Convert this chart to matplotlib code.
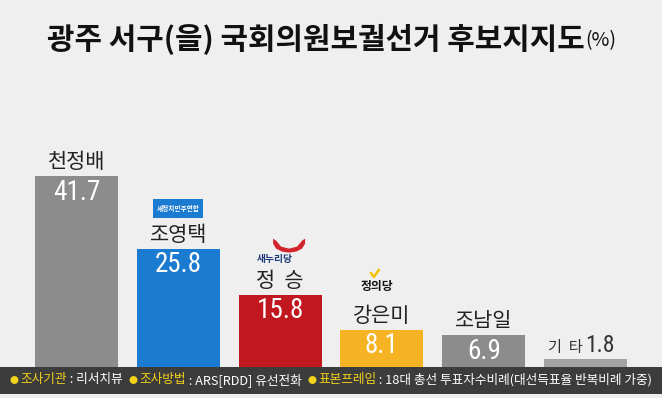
import numpy as np
import matplotlib
matplotlib.use("Agg")
import matplotlib.pyplot as plt
from matplotlib import font_manager
from matplotlib.patches import Rectangle, Polygon

# données
names = ["천정배", "조영택", "정  승", "강은미", "조남일", "기  타"]
values = [41.7, 25.8, 15.8, 8.1, 6.9, 1.8]
colors = ["#8c8c8c", "#1b7bd0", "#c1171f", "#f6b324", "#8c8c8c", "#a3a3a3"]
title = "광주 서구(을) 국회의원보궐선거 후보지지도"
title_unit = "(%)"
footer_labels = ["조사기관", "조사방법", "표본프레임"]
footer_values = ["리서치뷰", "ARS[RDD] 유선전화", "18대 총선 투표자수비례(대선득표율 반복비례 가중)"]

KR = "Noto Sans CJK KR"
installed = {f.name for f in font_manager.fontManager.ttflist}
NUM = KR
for cand in ["Liberation Sans Narrow", "DejaVu Sans Condensed", "Roboto Condensed"]:
    if cand in installed:
        NUM = cand
        break
plt.rcParams['font.family'] = [KR, 'DejaVu Sans']

bg = "#efefef"
W, H = 662, 398
fig = plt.figure(figsize=(W / 100, H / 100), dpi=100, facecolor=bg)

foot_top = 367
ax = fig.add_axes([0, (H - foot_top) / H, 1, foot_top / H])
ax.set_facecolor(bg)
ax.set_xlim(-0.751, 5.751)
ax.set_ylim(0, foot_top / 4.58)
ax.axis("off")

sx = W / (ax.get_xlim()[1] - ax.get_xlim()[0])      # px par unité x
sy = foot_top / (ax.get_ylim()[1] - ax.get_ylim()[0])  # px par unité y

x = np.arange(len(values))
ax.bar(x, values, width=0.815, color=colors, zorder=2)

for i, (n, v) in enumerate(zip(names, values)):
    if v > 5:
        ax.annotate(n, (i, v), xytext=(0, 14), textcoords="offset pixels",
                    ha="center", va="center", fontsize=15, color="#222222")
        ax.annotate(f"{v}", (i, v), xytext=(0, -16), textcoords="offset pixels",
                    ha="center", va="center", fontsize=19.5, color="white", family=NUM)
    else:
        ax.annotate(n, (i, v), xytext=(-3, 11), textcoords="offset pixels",
                    ha="right", va="center", fontsize=11, color="#333333")
        ax.annotate(f"{v}", (i, v), xytext=(0, 13), textcoords="offset pixels",
                    ha="left", va="center", fontsize=17, color="#333333", family=NUM)

# logo 새정치민주연합
i = 1
ax.add_patch(Rectangle((i - 25 / sx, values[i] + 31 / sy), 50 / sx, 19 / sy,
                       facecolor="#1b7bd0", edgecolor="none", zorder=3))
ax.annotate("새정치민주연합", (i, values[i]), xytext=(0, 40.5), textcoords="offset pixels",
            ha="center", va="center", fontsize=4.8, color="white", weight="bold", zorder=4)

# logo 새누리당
i = 2
cx, cy = i + 9 / sx, values[i] + 55 / sy
outer = [(-16, 1), (-16, -4), (-13, -9), (-7, -12), (0, -13), (7, -12), (13, -9), (16, -4), (16, 1)]
inner = [(13, -1), (8, -7), (0, -9), (-8, -7), (-13, -1)]
pts = [(cx + px / sx, cy + py / sy) for px, py in outer + inner]
ax.add_patch(Polygon(pts, closed=True, facecolor="#d2232a", edgecolor="none", zorder=3))
ax.annotate("새누리당", (i, values[i]), xytext=(-5, 36), textcoords="offset pixels",
            ha="center", va="center", fontsize=7, color="#1f3a7a", weight="bold")

# logo 정의당
i = 3
ax.annotate("정의당", (i, values[i]), xytext=(-5, 43), textcoords="offset pixels",
            ha="center", va="center", fontsize=8.5, color="#111111", weight="bold")
ck = [(-11, 57), (-8, 53), (-3, 60)]
ax.plot([i + a / sx for a, b in ck], [values[i] + b / sy for a, b in ck],
        color="#f2c200", lw=1.8, solid_capstyle="round", zorder=3)

# bandeau du bas
fig.patches.append(Rectangle((0, (H - 394) / H), 1, (394 - foot_top) / H,
                             transform=fig.transFigure, facecolor="#3c3c3c",
                             edgecolor="none", zorder=0))

renderer = fig.canvas.get_renderer()
pieces = []
for lab, val in zip(footer_labels, footer_values):
    pieces.append(("● ", "#f2d21a", 0.7))
    pieces.append((lab, "#f2d21a", 1.0))
    pieces.append((" : " + val + "  ", "white", 1.0))

def draw_pieces(fs):
    arts = []
    xpos = 0
    for txt, c, k in pieces:
        t = fig.text(xpos / W, (H - 380) / H, txt, fontsize=fs * k, color=c,
                     ha="left", va="center")
        arts.append(t)
        xpos += t.get_window_extent(renderer).width
    return arts, xpos

arts, total = draw_pieces(9)
for a in arts:
    a.remove()
fs = 9 * 650 / total
arts, total = draw_pieces(fs)
shift = (W - total) / 2 + 3
for a in arts:
    xx, yy = a.get_position()
    a.set_position((xx + shift / W, yy))

# titre
t1 = fig.text(0, (H - 40) / H, title, fontsize=21.5, weight="bold", color="#111111",
              ha="left", va="center")
t2 = fig.text(0, (H - 41) / H, title_unit, fontsize=14, color="#111111",
              ha="left", va="center")
w1 = t1.get_window_extent(renderer).width
w2 = t2.get_window_extent(renderer).width
x0 = (W - w1 - w2) / 2
t1.set_position((x0 / W, (H - 40) / H))
t2.set_position(((x0 + w1 + 1) / W, (H - 41) / H))

fig.savefig("out.png", dpi=100, facecolor=bg)
